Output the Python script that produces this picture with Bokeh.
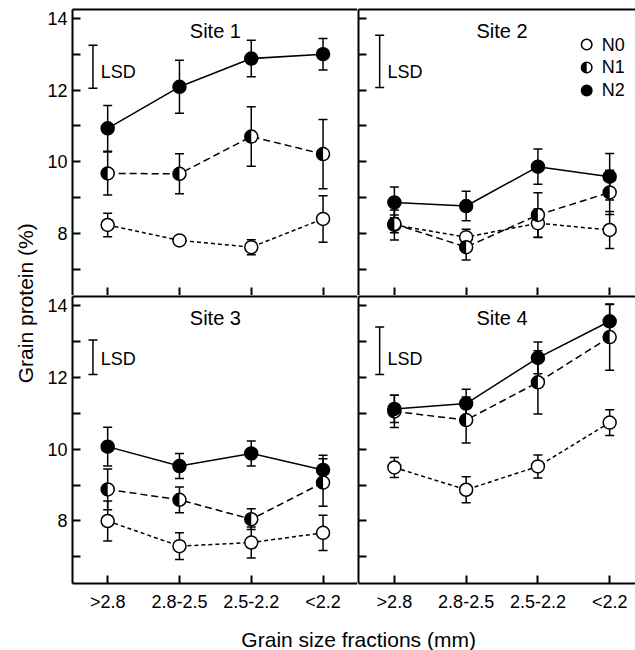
from math import pi
from bokeh.plotting import figure
from bokeh.models import Range1d, FixedTicker, LinearAxis, Label, ColumnDataSource
from bokeh.layouts import row, column
from bokeh.embed import file_html
from bokeh.resources import INLINE

# ---------------- data ----------------
categories = [">2.8", "2.8-2.5", "2.5-2.2", "<2.2"]
site_names = ["Site 1", "Site 2", "Site 3", "Site 4"]
treatments = ["N0", "N1", "N2"]
y_ticks = [8, 10, 12, 14]
y_minor_ticks = [7, 9, 11, 13]

n0_site1 = [8.23, 7.80, 7.61, 8.40]
n0_site1_err = [0.33, 0.08, 0.21, 0.65]
n1_site1 = [9.67, 9.66, 10.70, 10.21]
n1_site1_err = [0.60, 0.56, 0.83, 0.97]
n2_site1 = [10.93, 12.09, 12.88, 13.00]
n2_site1_err = [0.64, 0.74, 0.51, 0.44]

n0_site2 = [8.23, 7.89, 8.28, 8.09]
n0_site2_err = [0.42, 0.22, 0.40, 0.52]
n1_site2 = [8.26, 7.61, 8.51, 9.14]
n1_site2_err = [0.25, 0.36, 0.62, 0.62]
n2_site2 = [8.86, 8.76, 9.86, 9.58]
n2_site2_err = [0.43, 0.41, 0.49, 0.65]

n0_site3 = [8.00, 7.30, 7.40, 7.67]
n0_site3_err = [0.56, 0.37, 0.43, 0.49]
n1_site3 = [8.88, 8.59, 8.05, 9.07]
n1_site3_err = [0.57, 0.36, 0.29, 0.66]
n2_site3 = [10.07, 9.53, 9.88, 9.42]
n2_site3_err = [0.54, 0.35, 0.35, 0.41]

n0_site4 = [9.49, 8.87, 9.52, 10.74]
n0_site4_err = [0.28, 0.36, 0.32, 0.36]
n1_site4 = [11.05, 10.81, 11.86, 13.12]
n1_site4_err = [0.45, 0.64, 0.88, 0.92]
n2_site4 = [11.12, 11.27, 12.54, 13.56]
n2_site4_err = [0.38, 0.40, 0.44, 0.47]

lsd_mid = [12.65, 12.80, 12.56, 12.74]
lsd_half = [0.60, 0.73, 0.48, 0.66]

series = {
    "Site 1": {"N0": (n0_site1, n0_site1_err), "N1": (n1_site1, n1_site1_err), "N2": (n2_site1, n2_site1_err)},
    "Site 2": {"N0": (n0_site2, n0_site2_err), "N1": (n1_site2, n1_site2_err), "N2": (n2_site2, n2_site2_err)},
    "Site 3": {"N0": (n0_site3, n0_site3_err), "N1": (n1_site3, n1_site3_err), "N2": (n2_site3, n2_site3_err)},
    "Site 4": {"N0": (n0_site4, n0_site4_err), "N1": (n1_site4, n1_site4_err), "N2": (n2_site4, n2_site4_err)},
}

# ---------------- styling ----------------
FONT = "Liberation Sans"
INK = "black"
dash_of = {"N0": "4 3", "N1": "7 4", "N2": "solid"}
MARK = 13
LW = 1.5
Y_RANGE = (6.26, 14.25)
LEFT_XR = (-0.49, 3.48)
RIGHT_XR = (-0.50, 3.36)
LSD_X = -0.205

x_idx = list(range(len(categories)))


def style_axis(ax, size="18px", standoff=5):
    ax.axis_line_width = 2
    ax.axis_line_color = INK
    ax.major_tick_line_width = 2
    ax.minor_tick_line_width = 2
    ax.major_tick_line_color = INK
    ax.minor_tick_line_color = INK
    ax.major_tick_in = 8
    ax.major_tick_out = 0
    ax.minor_tick_in = 8
    ax.minor_tick_out = 0
    ax.major_label_text_font = FONT
    ax.major_label_text_font_size = size
    ax.major_label_text_color = INK
    ax.major_label_standoff = standoff


def half_circle(p, xs, ys, size):
    p.scatter(xs, ys, marker="circle", size=size, fill_color="white", line_color=None)
    p.wedge(x=xs, y=ys, radius=size / 2.0, radius_units="screen",
            start_angle=pi / 2, end_angle=3 * pi / 2,
            fill_color=INK, line_color=None)
    p.scatter(xs, ys, marker="circle", size=size, fill_color=None, line_color=INK, line_width=LW)


def make_panel(k, width, height, xr, top_row, left_col, borders):
    bl, br, bt, bb = borders
    p = figure(width=width, height=height, x_range=Range1d(*xr), y_range=Range1d(*Y_RANGE),
               x_axis_type=None, y_axis_type=None, output_backend="svg",
               toolbar_location=None, title=None,
               min_border_left=bl, min_border_right=br, min_border_top=bt, min_border_bottom=bb)
    p.outline_line_color = None
    p.background_fill_color = "white"
    p.border_fill_color = "white"

    # y axis (left): labelled only on the left column (unlabelled ticks drawn as minor ticks)
    if left_col:
        ya = LinearAxis(ticker=FixedTicker(ticks=y_ticks, minor_ticks=y_minor_ticks))
        style_axis(ya, "18px", 5)
    else:
        ya = LinearAxis(ticker=FixedTicker(ticks=[], minor_ticks=sorted(y_ticks + y_minor_ticks)))
        style_axis(ya, "18px", 0)
    p.add_layout(ya, "left")

    # x axis (below)
    if top_row:
        xa = LinearAxis(ticker=FixedTicker(ticks=[], minor_ticks=x_idx))
        style_axis(xa, "18px", 0)
        xa.axis_line_color = None
    else:
        xa = LinearAxis(ticker=FixedTicker(ticks=x_idx))
        xa.major_label_overrides = {i: c for i, c in enumerate(categories)}
        style_axis(xa, "18px", 8)
    p.add_layout(xa, "below")

    # top border line
    ta = LinearAxis(ticker=FixedTicker(ticks=[]))
    style_axis(ta, "18px", 0)
    p.add_layout(ta, "above")

    site = site_names[k]
    data = series[site]

    sources = {}
    for t in treatments:
        vals, errs = data[t]
        sources[t] = ColumnDataSource(dict(
            x=x_idx, y=vals,
            lo=[v - e for v, e in zip(vals, errs)],
            hi=[v + e for v, e in zip(vals, errs)]))

    for t in treatments:
        p.line("x", "y", source=sources[t], line_color=INK, line_width=LW, line_dash=dash_of[t])
    for t in treatments:
        s = sources[t]
        p.segment(x0="x", y0="lo", x1="x", y1="hi", source=s, line_color=INK, line_width=LW)
        p.scatter("x", "lo", source=s, marker="dash", size=9, line_color=INK, line_width=LW)
        p.scatter("x", "hi", source=s, marker="dash", size=9, line_color=INK, line_width=LW)
    for t in treatments:
        s = sources[t]
        if t == "N0":
            p.scatter("x", "y", source=s, marker="circle", size=MARK, fill_color="white",
                      line_color=INK, line_width=LW)
        elif t == "N1":
            half_circle(p, s.data["x"], s.data["y"], MARK)
        else:
            p.scatter("x", "y", source=s, marker="circle", size=MARK, fill_color=INK,
                      line_color=INK, line_width=LW)

    # LSD bar
    lsd_src = ColumnDataSource(dict(x=[LSD_X], lo=[lsd_mid[k] - lsd_half[k]], hi=[lsd_mid[k] + lsd_half[k]]))
    p.segment(x0="x", y0="lo", x1="x", y1="hi", source=lsd_src, line_color=INK, line_width=LW)
    p.scatter("x", "lo", source=lsd_src, marker="dash", size=9, line_color=INK, line_width=LW)
    p.scatter("x", "hi", source=lsd_src, marker="dash", size=9, line_color=INK, line_width=LW)
    p.add_layout(Label(x=LSD_X + 0.11, y=12.5, text="LSD", text_align="left", text_baseline="middle",
                       text_font=FONT, text_font_size="18px", text_color=INK))

    # site title
    p.add_layout(Label(x=(x_idx[0] + x_idx[-1]) / 2.0, y=13.65, text=site, text_align="center",
                       text_baseline="middle", text_font=FONT, text_font_size="20px", text_color=INK))
    return p


# layout (page px): frame left x=72, divider x=357/358, top y=9, divider y=295, bottom y=583
TL = make_panel(0, 317, 295, LEFT_XR, True, True, (32, 0, 9, 0))
TR = make_panel(1, 278, 295, RIGHT_XR, True, False, (1, 0, 9, 0))
BL = make_panel(2, 317, 328, LEFT_XR, False, True, (32, 0, 1, 40))
BR = make_panel(3, 278, 328, RIGHT_XR, False, False, (1, 0, 1, 40))

# legend in Site 2 panel
xr = TR.x_range
yr = TR.y_range
leg_mx = xr.start + 3.18
leg_tx = xr.start + 3.39
leg_y = [yr.end - 0.98, yr.end - 1.62, yr.end - 2.26]
LEG = 10.5
for t, ly in zip(treatments, leg_y):
    if t == "N0":
        TR.scatter([leg_mx], [ly], marker="circle", size=LEG, fill_color="white", line_color=INK, line_width=LW)
    elif t == "N1":
        half_circle(TR, [leg_mx], [ly], LEG)
    else:
        TR.scatter([leg_mx], [ly], marker="circle", size=LEG, fill_color=INK, line_color=INK, line_width=LW)
    TR.add_layout(Label(x=leg_tx, y=ly, text=t, text_align="left", text_baseline="middle",
                        text_font=FONT, text_font_size="18px", text_color=INK))


def title_fig(width, height):
    f = figure(width=width, height=height, x_range=Range1d(0, 1), y_range=Range1d(0, 1),
               x_axis_type=None, y_axis_type=None, output_backend="svg",
               toolbar_location=None, title=None, min_border=0)
    f.outline_line_color = None
    f.background_fill_color = "white"
    f.border_fill_color = "white"
    return f


YT = title_fig(40, 623)
YT.add_layout(Label(x=0.625, y=0.514, text="Grain protein (%)", angle=pi / 2, text_align="center",
                    text_baseline="middle", text_font=FONT, text_font_size="21px", text_color=INK))
XT = title_fig(635, 27)
XT.add_layout(Label(x=0.564, y=0.40, text="Grain size fractions (mm)", text_align="center",
                    text_baseline="middle", text_font=FONT, text_font_size="21px", text_color=INK))

layout = column(row(YT, column(TL, BL), column(TR, BR)), XT)

open("out.html", "w").write(file_html(layout, INLINE))
